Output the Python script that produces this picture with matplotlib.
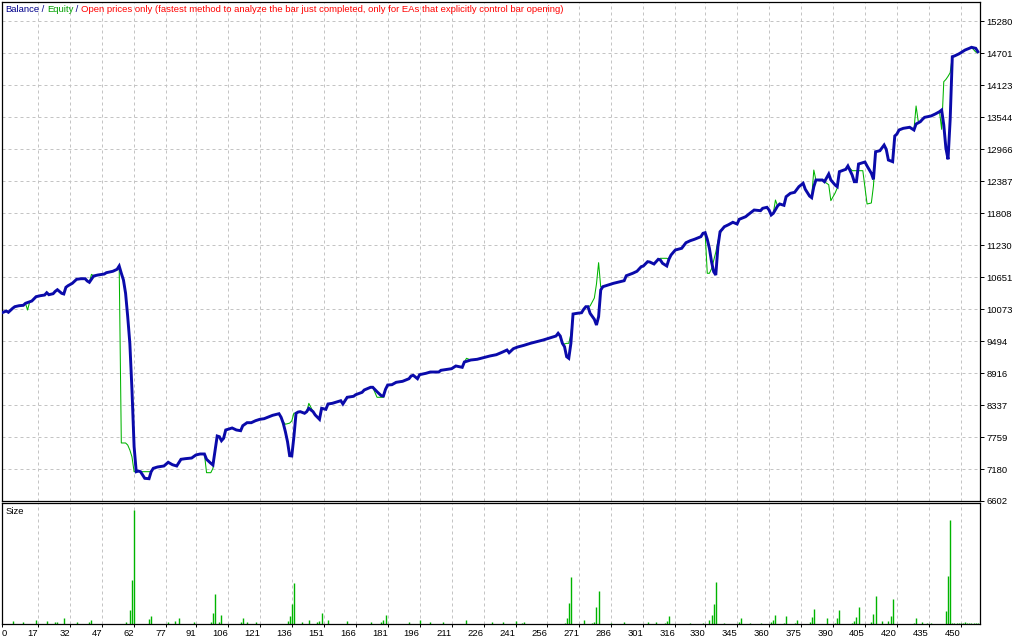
import matplotlib
matplotlib.use("Agg")
import matplotlib.pyplot as plt

# balance curve: trade number -> balance
bal_trade = [0, 2, 3, 5, 6, 8, 10, 11, 13, 14,
             16, 18, 20, 21, 22, 24, 25, 26, 28, 29,
             30, 31, 33, 35, 37, 39, 40, 41, 43, 45,
             48, 49, 52, 54, 55, 56, 57, 58, 59, 60,
             61, 62, 63, 64, 65, 66, 67, 69, 70, 71,
             73, 76, 78, 80, 82, 84, 86, 89, 91, 93,
             95, 96, 98, 99, 100, 101, 102, 103, 104, 105,
             106, 108, 110, 112, 113, 115, 117, 119, 121, 123,
             125, 127, 130, 131, 132, 133, 134, 135, 136, 137,
             138, 139, 140, 142, 143, 144, 146, 147, 149, 150,
             152, 153, 155, 159, 160, 161, 162, 165, 166, 169,
             170, 173, 174, 176, 178, 179, 180, 181, 183, 185,
             188, 191, 192, 193, 195, 196, 199, 201, 205, 206,
             209, 211, 213, 216, 217, 220, 223, 226, 229, 232,
             235, 237, 238, 240, 242, 245, 248, 251, 254, 257,
             260, 261, 262, 263, 264, 265, 266, 267, 268, 270,
             272, 273, 274, 275, 276, 278, 279, 280, 281, 282,
             284, 287, 290, 292, 293, 296, 298, 300, 301, 303,
             304, 306, 308, 309, 310, 312, 313, 314, 316, 319,
             321, 323, 325, 328, 329, 330, 331, 332, 333, 334,
             335, 336, 337, 338, 339, 341, 343, 345, 346, 349,
             351, 353, 356, 357, 359, 360, 361, 362, 364, 365,
             367, 368, 370, 372, 374, 376, 377, 379, 380, 381,
             382, 385, 386, 388, 389, 391, 392, 393, 396, 397,
             399, 400, 401, 402, 405, 406, 408, 409, 410, 412,
             414, 415, 416, 418, 419, 420, 421, 423, 426, 428,
             429, 431, 432, 433, 436, 438, 440, 441, 442, 443,
             444, 445, 446, 447, 449, 450, 452, 454, 455, 457,
             458]
bal_value = [10006, 10037, 10014, 10086, 10115, 10133, 10140, 10176, 10205, 10218,
             10296, 10314, 10326, 10368, 10332, 10350, 10393, 10422, 10357, 10345,
             10466, 10495, 10538, 10610, 10621, 10621, 10580, 10556, 10670, 10688,
             10706, 10730, 10755, 10791, 10851, 10719, 10598, 10357, 9934, 9453,
             8609, 7584, 7132, 7144, 7132, 7072, 7012, 7005, 7132, 7193,
             7217, 7235, 7302, 7258, 7235, 7356, 7367, 7379, 7434, 7452,
             7452, 7356, 7284, 7253, 7511, 7777, 7765, 7692, 7736, 7886,
             7898, 7922, 7886, 7873, 7963, 8018, 8018, 8054, 8079, 8090,
             8121, 8151, 8180, 8115, 8007, 7855, 7674, 7421, 7416, 7765,
             8188, 8211, 8217, 8188, 8217, 8278, 8217, 8157, 8079, 8278,
             8260, 8356, 8368, 8415, 8356, 8415, 8477, 8495, 8524, 8567,
             8609, 8658, 8658, 8578, 8506, 8500, 8622, 8699, 8705, 8748,
             8766, 8813, 8862, 8875, 8813, 8886, 8911, 8934, 8934, 8965,
             8983, 8994, 9043, 9019, 9115, 9151, 9164, 9193, 9224, 9247,
             9296, 9332, 9283, 9356, 9386, 9417, 9453, 9482, 9513, 9549,
             9585, 9634, 9585, 9453, 9392, 9211, 9182, 9453, 9983, 9996,
             10006, 10068, 10115, 10115, 9996, 9887, 9784, 9934, 10417, 10477,
             10502, 10538, 10567, 10585, 10675, 10719, 10755, 10838, 10851, 10929,
             10923, 10887, 10972, 10959, 10900, 10851, 10972, 11050, 11140, 11171,
             11272, 11308, 11334, 11381, 11442, 11453, 11334, 11171, 10929, 10748,
             10688, 11200, 11471, 11514, 11561, 11598, 11641, 11610, 11695, 11742,
             11804, 11863, 11851, 11894, 11912, 11863, 11773, 11804, 11936, 11972,
             11948, 12104, 12165, 12183, 12285, 12346, 12238, 12116, 12086, 12285,
             12406, 12406, 12375, 12514, 12406, 12315, 12285, 12556, 12599, 12659,
             12496, 12375, 12375, 12695, 12731, 12659, 12527, 12418, 12917, 12935,
             13038, 12961, 12767, 12737, 13201, 13237, 13310, 13340, 13359, 13310,
             13418, 13460, 13503, 13539, 13563, 13599, 13641, 13671, 13400, 12979,
             12780, 13500, 14635, 14648, 14684, 14707, 14756, 14787, 14805, 14787,
             14725]

# equity where it differs from balance
eq_trade = [12, 42, 56, 57, 58, 59, 60, 61, 62, 63,
            64, 65, 66, 67, 69, 96, 98, 99, 132, 133,
            134, 135, 136, 137, 144, 176, 178, 179, 218, 264,
            265, 266, 267, 276, 278, 279, 280, 281, 309, 310,
            312, 331, 332, 333, 334, 335, 336, 337, 363, 381,
            382, 388, 389, 390, 391, 392, 399, 400, 401, 402,
            404, 405, 406, 408, 409, 429, 430, 441, 442, 443,
            444, 445, 457, 458]
eq_value = [10055, 10700, 7651, 7651, 7651, 7614, 7524, 7400, 7132, 7132,
            7132, 7132, 7132, 7132, 7132, 7114, 7114, 7193, 8030, 7990,
            8000, 8010, 8050, 8190, 8368, 8477, 8477, 8477, 9182, 9440,
            9453, 9453, 9620, 10128, 10272, 10525, 10911, 10470, 10990, 10990,
            10990, 10719, 10719, 10800, 10950, 11100, 11300, 11430, 12044, 12586,
            12406, 12320, 12032, 12100, 12170, 12260, 12574, 12574, 12574, 12574,
            12574, 12270, 11972, 11990, 12300, 13744, 13470, 13322, 14183, 14224,
            14280, 14346, 14720, 14707]

# lot size per trade (lower panel)
size_trade = [5, 10, 16, 21, 25, 26, 29, 35, 41, 42,
              58, 60, 61, 62, 69, 70, 78, 81, 83, 90,
              98, 99, 100, 102, 103, 112, 113, 115, 119, 134,
              135, 136, 137, 141, 144, 148, 149, 150, 153, 162,
              173, 178, 179, 180, 191, 196, 201, 207, 218, 230,
              235, 241, 244, 245, 264, 265, 266, 267, 273, 277,
              278, 279, 280, 286, 292, 303, 307, 311, 312, 313,
              323, 329, 332, 333, 334, 335, 339, 346, 347, 351,
              356, 361, 362, 363, 367, 368, 372, 373, 379, 380,
              381, 387, 391, 392, 393, 399, 400, 401, 402, 408,
              409, 410, 413, 416, 417, 418, 428, 429, 432, 434,
              436, 443, 444, 445, 446, 447, 448, 449, 450, 451,
              452, 453, 454, 455, 456, 457, 458]
size_lots = [0.03, 0.02, 0.04, 0.03, 0.02, 0.02, 0.06, 0.02, 0.02, 0.04,
             0.02, 0.14, 0.44, 1.14, 0.05, 0.08, 0.02, 0.03, 0.06, 0.02,
             0.02, 0.11, 0.30, 0.02, 0.09, 0.02, 0.06, 0.02, 0.02, 0.03,
             0.08, 0.20, 0.41, 0.02, 0.04, 0.02, 0.03, 0.11, 0.04, 0.03,
             0.02, 0.02, 0.04, 0.09, 0.02, 0.04, 0.02, 0.02, 0.04, 0.02,
             0.02, 0.03, 0.01, 0.02, 0.01, 0.06, 0.21, 0.47, 0.04, 0.01,
             0.02, 0.17, 0.33, 0.01, 0.02, 0.02, 0.02, 0.01, 0.03, 0.08,
             0.01, 0.01, 0.04, 0.09, 0.20, 0.42, 0.01, 0.02, 0.06, 0.01,
             0.01, 0.02, 0.04, 0.09, 0.01, 0.08, 0.01, 0.04, 0.02, 0.07,
             0.15, 0.06, 0.01, 0.06, 0.14, 0.01, 0.03, 0.07, 0.17, 0.02,
             0.10, 0.28, 0.03, 0.03, 0.08, 0.25, 0.01, 0.06, 0.02, 0.01,
             0.01, 0.13, 0.48, 1.04, 0.01, 0.01, 0.01, 0.01, 0.01, 0.01,
             0.02, 0.01, 0.01, 0.01, 0.01, 0.01, 0.01]

x_ticks = [0, 17, 32, 47, 62, 77, 91, 106, 121, 136, 151, 166, 181, 196, 211,
           226, 241, 256, 271, 286, 301, 316, 330, 345, 360, 375, 390, 405, 420,
           435, 450]
y_ticks = [6602, 7180, 7759, 8337, 8916, 9494, 10073, 10651, 11230, 11808,
           12387, 12966, 13544, 14123, 14701, 15280]

plt.rcParams['font.family'] = ['Liberation Sans', 'DejaVu Sans']
FS = 6.8
BLUE = '#0A0AAA'
GREEN = '#00B400'
GRID = dict(color='#C4C4C4', linestyle=(0, (3, 3)), linewidth=0.72)

W, H = 1024, 640
fig = plt.figure(figsize=(W / 100, H / 100), dpi=100)


def box(l, t, r, b):
    return [l / W, 1 - b / H, (r - l) / W, (b - t) / H]


ax = fig.add_axes(box(2, 2, 980, 501))
ax2 = fig.add_axes(box(2, 503, 980, 624), sharex=ax)

# equity = balance, replaced where the chart shows it apart
eq = dict(zip(bal_trade, bal_value))
eq.update(zip(eq_trade, eq_value))
eq_t = sorted(eq)
eq_v = [eq[t] for t in eq_t]

ax.plot(eq_t, eq_v, color=GREEN, lw=0.75, zorder=3)
ax.plot(bal_trade, bal_value, color=BLUE, lw=2.1, zorder=4,
        solid_joinstyle='miter')

ax.set_xlim(0, 459)
ax.set_ylim(6602, 15624)
ax.set_yticks(y_ticks, labels=[str(v) for v in y_ticks])
ax.yaxis.tick_right()
ax.tick_params(axis='y', length=3, width=0.7, pad=1.5, labelsize=FS)
ax.tick_params(axis='x', length=0, labelbottom=False)
ax.grid(True, **GRID)
ax.set_axisbelow(True)

ax2.vlines(size_trade, 0, size_lots, color=GREEN, lw=1.0)
ax2.set_ylim(0, 1.21)
ax2.set_yticks([])
ax2.set_xticks(x_ticks, labels=[str(v) for v in x_ticks])
ax2.tick_params(axis='x', length=2, width=0.7, pad=1.5, labelsize=FS)
for lab in ax2.get_xticklabels():
    lab.set_ha('right')
ax2.get_xticklabels()[0].set_ha('left')
ax2.grid(True, axis='x', **GRID)
ax2.set_axisbelow(True)

for a in (ax, ax2):
    for s in a.spines.values():
        s.set_color('black')
        s.set_linewidth(0.9)

# header line, coloured pieces drawn one after another
parts = [('Balance', '#00008B'), (' / ', '#00008B'), ('Equity', '#00A000'),
         (' / ', '#00008B'),
         ('Open prices only (fastest method to analyze the bar just completed, '
          'only for EAs that explicitly control bar opening)', '#FF0000')]
r = fig.canvas.get_renderer()
x = 5
for s, c in parts:
    t = fig.text(x / W, 1 - 10 / H, s, color=c, fontsize=FS, va='center')
    x += t.get_window_extent(renderer=r).width

fig.text(6 / W, 1 - 512 / H, 'Size', fontsize=FS, va='center', color='black')

fig.savefig('out.png', dpi=100)
